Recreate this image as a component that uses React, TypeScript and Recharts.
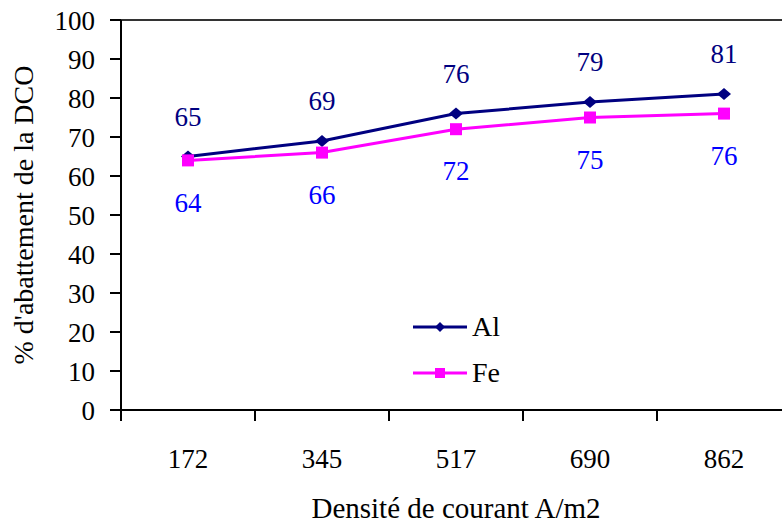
import {
  LineChart,
  Line,
  XAxis,
  YAxis,
  ReferenceLine,
  LabelList,
  Legend,
} from "recharts";

const densities = ["172", "345", "517", "690", "862"];
const alValues = [65, 69, 76, 79, 81];
const feValues = [64, 66, 72, 75, 76];
const yTicks = [0, 10, 20, 30, 40, 50, 60, 70, 80, 90, 100];

const data = densities.map((d, i) => ({
  density: d,
  al: alValues[i],
  fe: feValues[i],
}));

const FONT = "Liberation Serif, Times New Roman, serif";
const AL_COLOR = "#000080";
const FE_COLOR = "#FF00FF";
const AL_LABEL = "#000080";
const FE_LABEL = "#0000FF";

const CHART_W = 800;
const CHART_H = 526;
const MARGIN = { top: 20, right: 9, left: 0, bottom: 0 };
const Y_AXIS_W = 121;
const X_AXIS_H = 116;
const PLOT_W = CHART_W - MARGIN.left - MARGIN.right - Y_AXIS_W;
const PLOT_H = CHART_H - MARGIN.top - MARGIN.bottom - X_AXIS_H;
const AXIS_Y = MARGIN.top + PLOT_H;
const HALF_BAND = PLOT_W / densities.length / 2;

const DensityTick = (props: any) => {
  const { x, payload } = props;
  return (
    <g>
      <line
        x1={x - HALF_BAND}
        x2={x - HALF_BAND}
        y1={AXIS_Y}
        y2={AXIS_Y + 11}
        stroke="#000"
        strokeWidth={2}
      />
      <text
        x={x}
        y={AXIS_Y + 58}
        textAnchor="middle"
        style={{ fontFamily: FONT, fontSize: 27 }}
        fill="#000"
      >
        {payload.value}
      </text>
    </g>
  );
};

const XTitle = () => (
  <text
    x={MARGIN.left + Y_AXIS_W + PLOT_W / 2}
    y={518}
    textAnchor="middle"
    style={{ fontFamily: FONT, fontSize: 29 }}
    fill="#000"
  >
    Densité de courant A/m2
  </text>
);

const YTitle = () => {
  const cx = 33;
  const cy = MARGIN.top + PLOT_H / 2;
  return (
    <text
      x={cx}
      y={cy}
      transform={`rotate(-90 ${cx} ${cy})`}
      textAnchor="middle"
      style={{ fontFamily: FONT, fontSize: 28 }}
      fill="#000"
    >
      % d'abattement de la DCO
    </text>
  );
};

// series markers: ignore the default white fill that the Line passes in
const AlDot = (props: any) => {
  const { cx, cy } = props;
  if (cx == null || cy == null) return null;
  return (
    <path
      d={`M${cx} ${cy - 6} L${cx + 7} ${cy} L${cx} ${cy + 6} L${cx - 7} ${cy} Z`}
      fill={AL_COLOR}
    />
  );
};

const FeDot = (props: any) => {
  const { cx, cy } = props;
  if (cx == null || cy == null) return null;
  return <rect x={cx - 6} y={cy - 6} width={12} height={12} fill={FE_COLOR} />;
};

const legendItems = [
  { name: "Al", color: AL_COLOR, shape: "diamond" },
  { name: "Fe", color: FE_COLOR, shape: "square" },
];

const LegendBox = () => (
  <div style={{ fontFamily: FONT, fontSize: 28, color: "#000" }}>
    {legendItems.map((item) => (
      <div
        key={item.name}
        style={{ display: "flex", alignItems: "center", height: 46 }}
      >
        <svg width={59} height={20} style={{ display: "block" }}>
          <line x1={0} x2={54} y1={10} y2={10} stroke={item.color} strokeWidth={3} />
          {item.shape === "diamond" ? (
            <path d="M27 5 L32 10 L27 15 L22 10 Z" fill={item.color} />
          ) : (
            <rect x={22} y={5} width={10} height={10} fill={item.color} />
          )}
        </svg>
        <span style={{ lineHeight: "46px" }}>{item.name}</span>
      </div>
    ))}
  </div>
);

export default function App() {
  return (
    <div
      style={{
        position: "fixed",
        left: 0,
        top: 0,
        width: 782,
        height: 526,
        overflow: "hidden",
        background: "#fff",
      }}
    >
      <LineChart width={CHART_W} height={CHART_H} data={data} margin={MARGIN}>
        <XAxis
          dataKey="density"
          scale="point"
          padding={{ left: HALF_BAND, right: HALF_BAND }}
          height={X_AXIS_H}
          axisLine={{ stroke: "#000", strokeWidth: 2 }}
          tickLine={false}
          tick={<DensityTick />}
          interval={0}
          label={<XTitle />}
        />
        <YAxis
          domain={[0, 100]}
          ticks={yTicks}
          width={Y_AXIS_W}
          axisLine={{ stroke: "#000", strokeWidth: 2 }}
          tickLine={{ stroke: "#000", strokeWidth: 2 }}
          tickSize={11}
          tickMargin={15}
          tick={{ style: { fontFamily: FONT, fontSize: 27 }, fill: "#000" }}
          label={<YTitle />}
        />
        <ReferenceLine y={100} stroke="#333" strokeWidth={2} />
        <Legend
          layout="vertical"
          align="center"
          verticalAlign="middle"
          wrapperStyle={{ left: 413, top: 304, width: 140 }}
          content={<LegendBox />}
        />
        <Line
          type="linear"
          dataKey="al"
          name="Al"
          stroke={AL_COLOR}
          strokeWidth={3}
          dot={<AlDot />}
          activeDot={false}
          isAnimationActive={false}
        >
          <LabelList
            dataKey="al"
            position="top"
            offset={31}
            fill={AL_LABEL}
            style={{ fontFamily: FONT, fontSize: 27 }}
          />
        </Line>
        <Line
          type="linear"
          dataKey="fe"
          name="Fe"
          stroke={FE_COLOR}
          strokeWidth={3}
          dot={<FeDot />}
          activeDot={false}
          isAnimationActive={false}
        >
          <LabelList
            dataKey="fe"
            position="bottom"
            offset={32}
            fill={FE_LABEL}
            style={{ fontFamily: FONT, fontSize: 27 }}
          />
        </Line>
      </LineChart>
    </div>
  );
}
